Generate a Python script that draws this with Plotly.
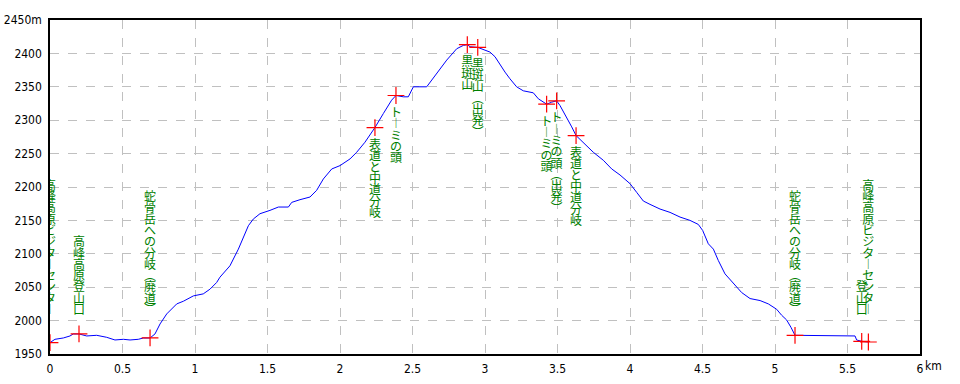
import plotly.graph_objects as go

# ---- profile data (distance km, elevation m) ----
dist_km = [0.000, 0.034, 0.092, 0.138, 0.161, 0.200, 0.253, 0.322, 0.391, 0.448,
           0.506, 0.552, 0.609, 0.644, 0.690, 0.724, 0.759, 0.805, 0.874, 0.920,
           0.989, 1.057, 1.103, 1.149, 1.172, 1.241, 1.299, 1.333, 1.368, 1.402,
           1.448, 1.517, 1.575, 1.644, 1.667, 1.724, 1.793, 1.839, 1.885, 1.943,
           2.000, 2.069, 2.115, 2.172, 2.230, 2.241, 2.299, 2.356, 2.386, 2.437,
           2.471, 2.506, 2.598, 2.667, 2.736, 2.805, 2.828, 2.851, 2.878, 2.897,
           2.950, 3.000, 3.034, 3.069, 3.103, 3.138, 3.172, 3.218, 3.264, 3.333,
           3.368, 3.425, 3.460, 3.494, 3.517, 3.563, 3.598, 3.628, 3.678, 3.747,
           3.816, 3.874, 3.931, 4.000, 4.046, 4.092, 4.138, 4.207, 4.276, 4.345,
           4.414, 4.471, 4.501, 4.540, 4.575, 4.609, 4.655, 4.713, 4.770, 4.828,
           4.897, 4.954, 5.011, 5.046, 5.080, 5.110, 5.138, 5.552, 5.563, 5.598,
           5.644]
elev_m = [1967, 1972, 1974, 1977, 1980, 1980, 1977, 1978, 1975, 1971,
          1972, 1971, 1972, 1974, 1974, 1980, 1995, 2010, 2025, 2029,
          2037, 2040, 2047, 2057, 2065, 2082, 2107, 2125, 2142, 2152,
          2160, 2165, 2170, 2170, 2177, 2181, 2185, 2195, 2212, 2227,
          2232, 2242, 2252, 2267, 2284, 2289, 2310, 2330, 2337, 2335,
          2335, 2350, 2350, 2370, 2390, 2407, 2410, 2412, 2413, 2410,
          2409, 2405, 2402, 2395, 2383, 2372, 2362, 2350, 2344, 2341,
          2332, 2324, 2327, 2329, 2322, 2305, 2290, 2277, 2267, 2252,
          2240, 2227, 2218, 2205, 2192, 2179, 2174, 2167, 2162, 2155,
          2150, 2144, 2135, 2115, 2107, 2090, 2070, 2055, 2042, 2033,
          2030, 2025, 2017, 2008, 2001, 1990, 1978, 1977, 1971, 1969,
          1968]

# ---- waypoints ----
wp_km = [0.000, 0.200, 0.690, 2.241, 2.386, 2.878, 2.950, 3.425, 3.494, 3.628, 5.138, 5.598, 5.644]
wp_elev = [1967, 1980, 1974, 2289, 2337, 2413, 2409, 2324, 2329, 2277, 1978, 1969, 1968]
wp_name = ["高峰高原ビジターセンター", "高峰高原登山口", "蛇骨岳への分岐（廃道）",
           "表道と中道分岐", "トーミの頭", "黒斑山", "黒斑山（出発）",
           "トーミの頭", "トーミの頭（出発）", "表道と中道分岐",
           "蛇骨岳への分岐（廃道）", "登山口", "高峰高原ビジターセンター"]

# ---- axis ticks ----
y_ticks = [1950, 2000, 2050, 2100, 2150, 2200, 2250, 2300, 2350, 2400, 2450]
y_ticktext = ["1950", "2000", "2050", "2100", "2150", "2200", "2250", "2300", "2350", "2400", "2450m"]
x_ticks = [0, 0.5, 1, 1.5, 2, 2.5, 3, 3.5, 4, 4.5, 5, 5.5, 6]
x_ticktext = ["0", "0.5", "1", "1.5", "2", "2.5", "3", "3.5", "4", "4.5", "5", "5.5", "6"]

# ---- layout constants ----
W, H = 960, 384
ML, MR, MT, MB = 50, 40, 20, 30
Y0, Y1 = 1950, 2450
px_per_m = (H - MT - MB) / (Y1 - Y0)
CHAR_PITCH_PX = 11.3
LABEL_OFFSET_PX = 18.5
LABEL_BOTTOM_PX = 311  # lowest char centre (px from top)

vert_map = {"ー": "︱", "（": "︵", "）": "︶"}

lab_x, lab_y, lab_t = [], [], []
bottom_limit = Y1 - (LABEL_BOTTOM_PX - MT) / px_per_m
pitch_m = CHAR_PITCH_PX / px_per_m
for km, el, name in zip(wp_km, wp_elev, wp_name):
    n = len(name)
    top = el - LABEL_OFFSET_PX / px_per_m
    if top - (n - 1) * pitch_m < bottom_limit:
        top = bottom_limit + (n - 1) * pitch_m
    for i, ch in enumerate(name):
        lab_x.append(km)
        lab_y.append(top - i * pitch_m)
        lab_t.append(vert_map.get(ch, ch))

fig = go.Figure()
fig.add_trace(go.Scatter(x=dist_km, y=elev_m, mode="lines",
                         line=dict(color="#0000ff", width=1), hoverinfo="skip"))
fig.add_trace(go.Scatter(x=lab_x, y=lab_y, mode="text", text=lab_t,
                         textposition="middle center",
                         textfont=dict(family="Noto Sans CJK JP", size=12, color="#008000"),
                         hoverinfo="skip"))
fig.add_trace(go.Scatter(x=wp_km, y=wp_elev, mode="markers",
                         marker=dict(symbol="cross-thin", size=12,
                                     line=dict(color="#ff0000", width=1.2)),
                         hoverinfo="skip"))

tick_font = dict(family="Liberation Sans Narrow, DejaVu Sans Condensed, Arial Narrow, sans-serif",
                 size=12, color="black")

fig.update_layout(
    width=W, height=H,
    margin=dict(l=ML, r=MR, t=MT, b=MB, autoexpand=False),
    paper_bgcolor="white", plot_bgcolor="white",
    showlegend=False,
    xaxis=dict(range=[0, 6], tickvals=x_ticks, ticktext=x_ticktext, automargin=False,
               showgrid=True, gridcolor="#c0c0c0", griddash="dash", gridwidth=1,
               zeroline=False, showline=True, linecolor="black", linewidth=2,
               mirror=True, ticks="", tickfont=tick_font, ticklabelstandoff=3),
    yaxis=dict(range=[Y0, Y1], tickvals=y_ticks, ticktext=y_ticktext, automargin=False,
               showgrid=True, gridcolor="#c0c0c0", griddash="dash", gridwidth=1,
               zeroline=False, showline=True, linecolor="black", linewidth=1.5,
               mirror=True, ticks="", tickfont=tick_font, ticklabelstandoff=4),
    annotations=[dict(x=6, y=0, xref="x", yref="paper", text="km", showarrow=False,
                      xanchor="left", yanchor="top", xshift=3, yshift=-3, font=tick_font)],
)

fig.write_html("out.html")
